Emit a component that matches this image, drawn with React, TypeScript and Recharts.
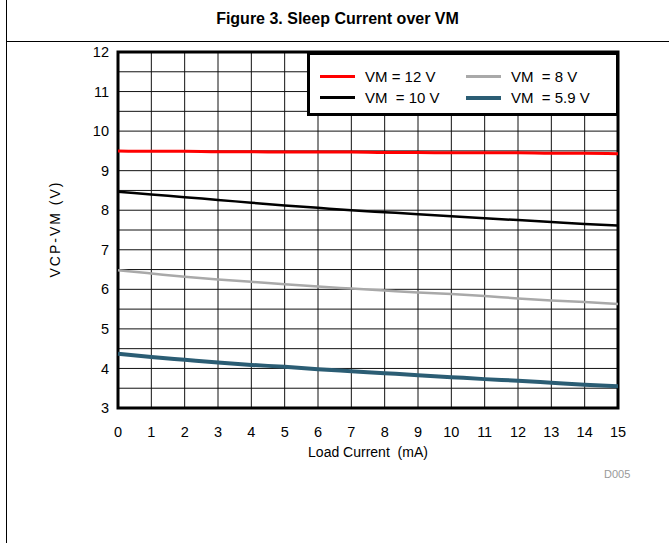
import { CartesianGrid, Line, LineChart, ReferenceArea, XAxis, YAxis } from "recharts"

const loadCurrent = [0, 1, 2, 3, 4, 5, 6, 7, 8, 9, 10, 11, 12, 13, 14, 15]
const vm12 = [9.5, 9.49, 9.49, 9.48, 9.48, 9.47, 9.47, 9.47, 9.46, 9.46, 9.45, 9.45, 9.45, 9.44, 9.44, 9.43]
const vm10 = [8.47, 8.4, 8.33, 8.26, 8.19, 8.12, 8.06, 8.0, 7.95, 7.9, 7.85, 7.8, 7.75, 7.7, 7.65, 7.61]
const vm8 = [6.48, 6.4, 6.32, 6.25, 6.19, 6.13, 6.07, 6.02, 5.97, 5.92, 5.88, 5.83, 5.77, 5.72, 5.68, 5.63]
const vm59 = [4.37, 4.29, 4.22, 4.15, 4.09, 4.04, 3.98, 3.93, 3.88, 3.83, 3.78, 3.73, 3.69, 3.64, 3.59, 3.55]

const xTicks = [0, 1, 2, 3, 4, 5, 6, 7, 8, 9, 10, 11, 12, 13, 14, 15]
const yTicks = [3, 4, 5, 6, 7, 8, 9, 10, 11, 12]
const yGrid = [3, 3.5, 4, 4.5, 5, 5.5, 6, 6.5, 7, 7.5, 8, 8.5, 9, 9.5, 10, 10.5, 11, 11.5, 12]

const series = [
    { key: "vm12", name: "VM = 12 V", color: "#ff0000", width: 3 },
    { key: "vm10", name: "VM  = 10 V", color: "#000000", width: 2.5 },
    { key: "vm8", name: "VM  = 8 V", color: "#a9a9a9", width: 2.5 },
    { key: "vm59", name: "VM  = 5.9 V", color: "#2b5d74", width: 4 },
]

const data = loadCurrent.map((x, i) => ({
    x,
    vm12: vm12[i],
    vm10: vm10[i],
    vm8: vm8[i],
    vm59: vm59[i],
}))

const font = "Arial, 'Liberation Sans', sans-serif"

function LegendBox() {
    // two columns: 12 V / 10 V on the left, 8 V / 5.9 V on the right
    const cols = [series.slice(0, 2), series.slice(2, 4)]
    return (
        <div
            style={{
                position: "absolute",
                left: 307,
                top: 52,
                boxSizing: "border-box",
                width: 312,
                height: 64,
                border: "3px solid #000",
                background: "#fff",
                display: "flex",
                paddingLeft: 10,
                paddingTop: 11,
                fontFamily: font,
                fontSize: 15,
                color: "#000",
            }}
        >
            {cols.map((col, ci) => (
                <div key={ci} style={{ width: ci === 0 ? 146 : 150 }}>
                    {col.map((s) => (
                        <div key={s.key} style={{ display: "flex", alignItems: "center", height: 21 }}>
                            <span style={{ display: "inline-block", width: 35, height: s.width, background: s.color }} />
                            <span style={{ marginLeft: 10, whiteSpace: "pre" }}>{s.name}</span>
                        </div>
                    ))}
                </div>
            ))}
        </div>
    )
}

export default function App() {
    return (
        <div style={{ position: "absolute", left: 0, top: 0, width: 669, height: 544, fontFamily: font }}>
            <div
                style={{
                    position: "absolute",
                    left: 6,
                    top: 0,
                    width: 663,
                    height: 543,
                    borderLeft: "1px solid #000",
                    boxSizing: "border-box",
                }}
            />
            <div
                style={{
                    position: "absolute",
                    left: 6,
                    top: 0,
                    width: 663,
                    height: 42,
                    borderBottom: "1px solid #000",
                    boxSizing: "border-box",
                    paddingTop: 10,
                    textAlign: "center",
                    fontWeight: "bold",
                    fontSize: 16,
                }}
            >
                Figure 3. Sleep Current over VM
            </div>
            <div style={{ position: "absolute", left: 604, top: 468, fontSize: 11, color: "#999" }}>D005</div>
            <div style={{ position: "absolute", left: 0, top: 0 }}>
                <LineChart width={660} height={544} data={data} margin={{ top: 52, right: 42, bottom: 106, left: 58 }}>
                    <CartesianGrid stroke="#111" strokeWidth={1} horizontalValues={yGrid} verticalValues={xTicks} />
                    <XAxis
                        dataKey="x"
                        type="number"
                        domain={[0, 15]}
                        ticks={xTicks}
                        interval={0}
                        tickLine={false}
                        axisLine={false}
                        tickMargin={13}
                        height={30}
                        tick={{ fill: "#000", fontSize: 14.5, fontFamily: font }}
                        label={{
                            content: () => (
                                <text
                                    x={368}
                                    y={457}
                                    textAnchor="middle"
                                    fontSize={14}
                                    fontFamily={font}
                                    fill="#000"
                                    style={{ whiteSpace: "pre" }}
                                >
                                    Load Current  (mA)
                                </text>
                            ),
                        }}
                    />
                    <YAxis
                        type="number"
                        domain={[3, 12]}
                        ticks={yTicks}
                        interval={0}
                        tickLine={false}
                        axisLine={false}
                        tickMargin={3}
                        width={60}
                        tick={{ fill: "#000", fontSize: 14.5, fontFamily: font }}
                        label={{
                            content: () => (
                                <text
                                    x={55}
                                    y={229}
                                    transform="rotate(-90 55 229)"
                                    textAnchor="middle"
                                    dominantBaseline="central"
                                    fontSize={14}
                                    fontFamily={font}
                                    letterSpacing={2}
                                    fill="#000"
                                >
                                    VCP-VM (V)
                                </text>
                            ),
                        }}
                    />
                    {series.map((s) => (
                        <Line
                            key={s.key}
                            type="monotone"
                            dataKey={s.key}
                            name={s.name}
                            stroke={s.color}
                            strokeWidth={s.width}
                            dot={false}
                            activeDot={false}
                            isAnimationActive={false}
                        />
                    ))}
                    <ReferenceArea x1={0} x2={15} y1={3} y2={12} fill="none" stroke="#000" strokeWidth={3} ifOverflow="visible" />
                </LineChart>
            </div>
            <LegendBox />
        </div>
    )
}
